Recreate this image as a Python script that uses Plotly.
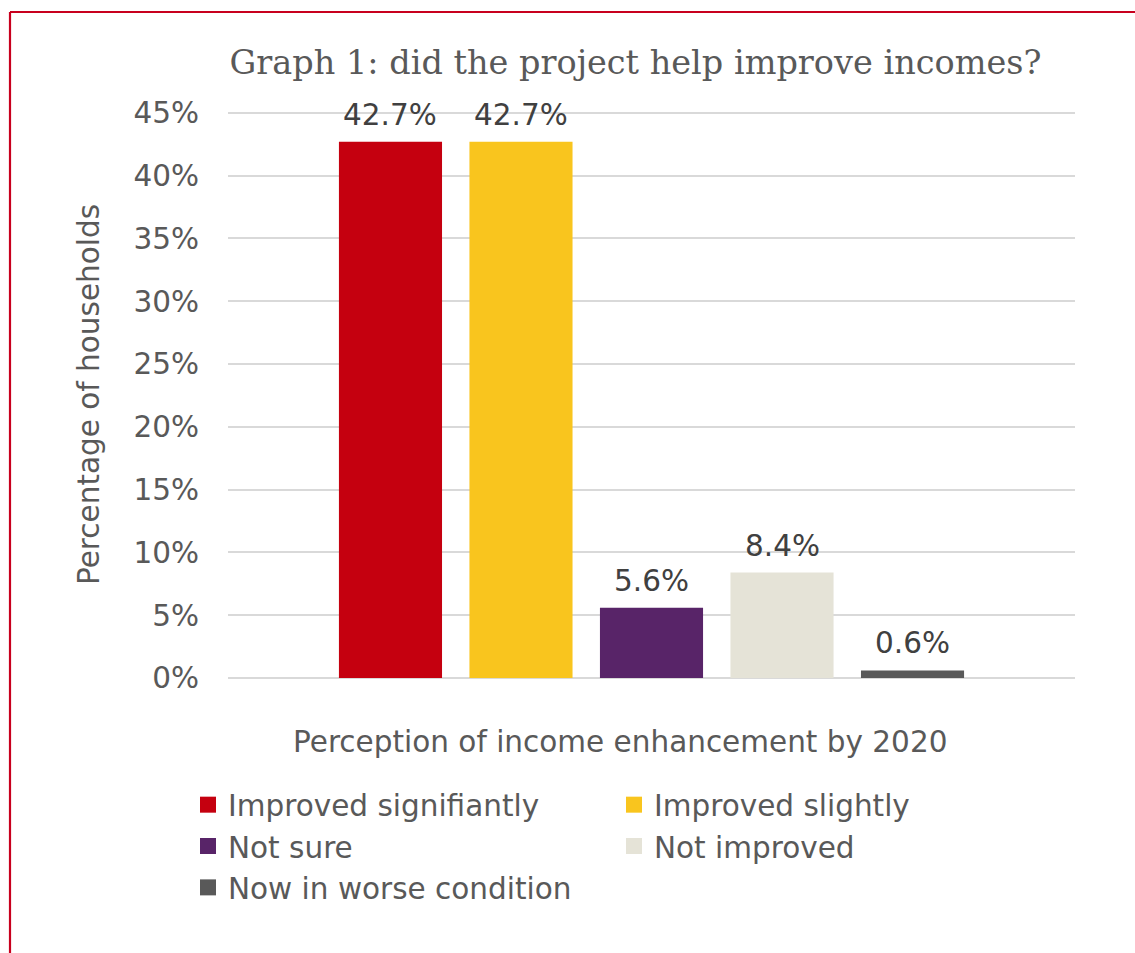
import plotly.graph_objects as go

# Survey responses: share of households by perceived change in income
categories = [
    "Improved signifiantly",
    "Improved slightly",
    "Not sure",
    "Not improved",
    "Now in worse condition",
]
shares = [42.7, 42.7, 5.6, 8.4, 0.6]
colors = ["#C5000F", "#F9C51E", "#582468", "#E5E3D7", "#595959"]
y_ticks = [0, 5, 10, 15, 20, 25, 30, 35, 40, 45]
y_tick_text = [f"{t}%" for t in y_ticks]

W, H = 1135, 953
L, R, T, B = 228, 60, 111, 275
pw, ph = W - L - R, H - T - B
FONT = "DejaVu Sans"
FS = 29.5
GREY = "#595959"

fig = go.Figure()
for name, val, col in zip(categories, shares, colors):
    fig.add_trace(go.Bar(
        x=[name], y=[val], name=name, legendgroup=name, showlegend=False,
        marker=dict(color=col, line=dict(width=0)),
    ))
    # square swatch for the legend entry
    fig.add_trace(go.Scatter(
        x=[name], y=[None], name=name, legendgroup=name, mode="markers",
        marker=dict(symbol="square", size=16, color=col, line=dict(width=0)),
        hoverinfo="skip",
    ))
    # value label above each bar
    fig.add_annotation(
        x=name, y=val, xref="x", yref="y",
        text=f"{val:.1f}%", showarrow=False,
        yanchor="bottom", yshift=8,
        font=dict(family=FONT, size=FS, color="#404040"),
    )

px2x = lambda px: (px - L) / pw
px2y = lambda py: (H - B - py) / ph

# x-axis caption
fig.add_annotation(
    xref="paper", yref="paper", x=px2x(620), y=px2y(742),
    xanchor="center", yanchor="middle", showarrow=False,
    text="Perception of income enhancement by 2020",
    font=dict(family=FONT, size=FS, color=GREY),
)

# Red frame along the left and top edges
red = "#C8001E"
fig.add_shape(type="line", xref="paper", yref="paper",
              x0=px2x(10), x1=px2x(10), y0=px2y(960), y1=px2y(12),
              line=dict(color=red, width=2.2))
fig.add_shape(type="line", xref="paper", yref="paper",
              x0=px2x(10), x1=px2x(1140), y0=px2y(12), y1=px2y(12),
              line=dict(color=red, width=2.2))

fig.update_layout(
    width=W, height=H,
    margin=dict(l=L, r=R, t=T, b=B, autoexpand=False),
    paper_bgcolor="white", plot_bgcolor="white",
    barmode="overlay", bargap=0.21,
    font=dict(family=FONT, size=FS, color=GREY),
    title=dict(
        text="Graph 1: did the project help improve incomes?",
        font=dict(family="DejaVu Serif", size=33.5, color=GREY),
        x=635.5 / W, xanchor="center",
        y=1 - 62 / H, yanchor="middle",
    ),
    showlegend=True,
    legend=dict(
        orientation="h",
        x=px2x(188), xanchor="left",
        y=px2y(779), yanchor="top",
        entrywidth=381, entrywidthmode="pixels",
        font=dict(family=FONT, size=FS, color=GREY),
        traceorder="normal", itemclick=False, itemdoubleclick=False,
        bgcolor="rgba(0,0,0,0)",
    ),
    xaxis=dict(
        type="category", categoryorder="array", categoryarray=categories,
        range=[-1.245, 5.245],
        showticklabels=False, showgrid=False, zeroline=False,
        showline=False, ticks="", automargin=False,
    ),
    yaxis=dict(
        range=[0, 45.15], tickvals=y_ticks, ticktext=y_tick_text,
        showgrid=True, gridcolor="#D9D9D9", gridwidth=1.6,
        zeroline=True, zerolinecolor="#D9D9D9", zerolinewidth=1.6,
        showline=False,
        ticks="outside", ticklen=22, tickcolor="rgba(0,0,0,0)",
        tickfont=dict(family=FONT, size=FS, color=GREY),
        title=dict(text="Percentage of households", standoff=25,
                   font=dict(family=FONT, size=FS, color=GREY)),
        automargin=False,
    ),
)

fig.write_html("out.html")
